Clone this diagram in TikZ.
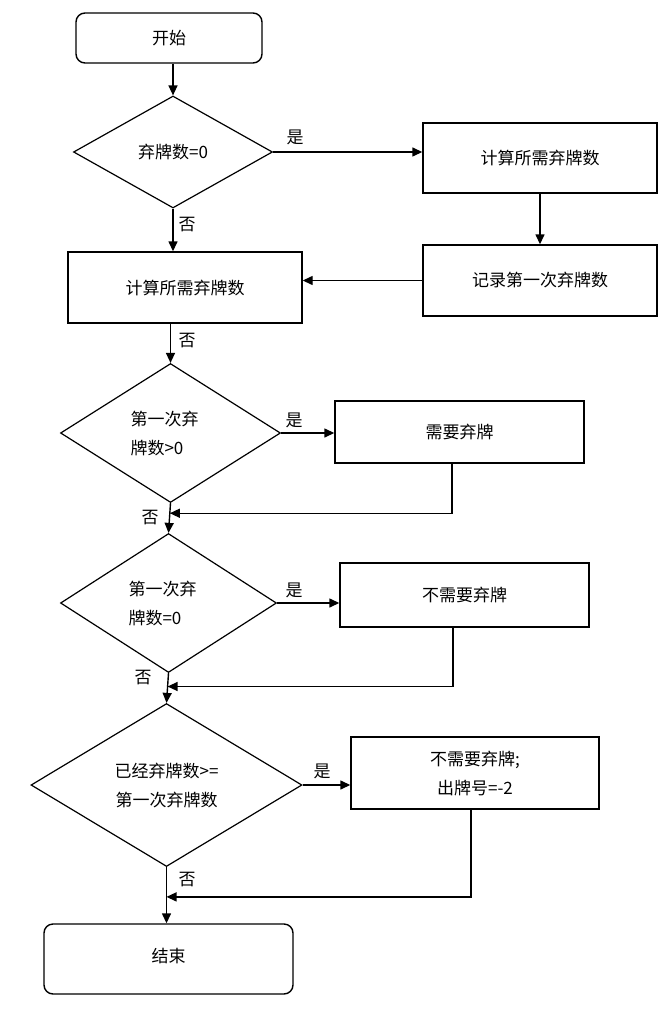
\documentclass[tikz,border=0pt]{standalone}
\usepackage{fontspec}
\setmainfont{Noto Sans CJK SC}
\usetikzlibrary{shapes.geometric,arrows.meta}
\begin{document}
\begin{tikzpicture}[x=1pt,y=-1pt,
 every node/.style={font=\fontsize{17}{29}\selectfont},
 box/.style={draw, line width=1.4pt, inner sep=0pt, anchor=center},
 term/.style={box, rounded corners=9pt},
 dec/.style={draw, diamond, line width=1.2pt, inner sep=0pt, align=center},
 arr/.style={line width=1.4pt, -{Triangle[length=10pt,width=9pt]}},
 ln/.style={line width=1.4pt},
 lbl/.style={inner sep=0pt}]
\useasboundingbox (0,0) rectangle (661,1035);
% nodes
\node[term, minimum width=186pt, minimum height=50pt] (start) at (169,38) {开始};
\node[dec, minimum width=199pt, minimum height=112pt, aspect=1.78] (d1) at (173,152) {弃牌数=0};
\node[box, minimum width=234pt, minimum height=70pt] (a) at (540,158) {计算所需弃牌数};
\node[box, minimum width=234pt, minimum height=71pt] (b) at (540,280.5) {记录第一次弃牌数};
\node[box, minimum width=234pt, minimum height=71pt] (c) at (185,287.5) {计算所需弃牌数};
\node[dec, minimum width=220pt, minimum height=139pt, aspect=1.58, align=left] (d2) at (170.5,433) {第一次弃\hspace*{12pt}\\牌数>0};
\node[box, minimum width=249pt, minimum height=62pt] (dd) at (459.5,432) {需要弃牌};
\node[dec, minimum width=216pt, minimum height=139pt, aspect=1.55, align=left] (d3) at (168.5,603) {第一次弃\hspace*{12pt}\\牌数=0};
\node[box, minimum width=249pt, minimum height=64pt] (e) at (464.5,595) {不需要弃牌};
\node[dec, minimum width=271pt, minimum height=163pt, aspect=1.66] (d4) at (166.5,785) {已经弃牌数>=\\第一次弃牌数};
\node[box, minimum width=248pt, minimum height=72pt, align=center] (f) at (475,773) {不需要弃牌;\\出牌号=-2};
\node[term, minimum width=249pt, minimum height=70pt] (end) at (168.5,959) {\raisebox{7pt}{结束}};
% labels
\node[lbl] (y1) at (295,137) {是};
\node[lbl] (y2) at (294,420) {是};
\node[lbl] (y3) at (294,590) {是};
\node[lbl] (y4) at (322,771) {是};
\node[lbl] (n1) at (187,225) {否};
\node[lbl] (n2) at (187,341) {否};
\node[lbl] (n3) at (150,518) {否};
\node[lbl] (n4) at (143,678) {否};
\node[lbl] (n5) at (187,880) {否};
% connectors
\draw[arr] (start.south -| d1.north) -- (d1.north);
\draw[arr] (d1.east) -- (d1.east -| a.west);
\draw[arr] (a) -- (b);
\draw[arr] (b.west) -- (b.west -| c.east);
\draw[arr] (d1.south) -- (d1.south |- c.north);
\draw[arr] (d2.north |- c.south) -- (d2.north);
\draw[arr] (d2.east) -- (d2.east -| dd.west);
\draw[arr] (d2.south) -- coordinate[pos=0.34] (j1) (d3.north);
\draw[arr] ([xshift=-7.5pt]dd.south) |- (j1);
\draw[arr] (d3.east) -- (d3.east -| e.west);
\draw[arr] (d3.south) -- coordinate[pos=0.45] (j2) (d4.north);
\draw[arr] ([xshift=-11.5pt]e.south) |- (j2);
\draw[arr] (d4.east) -- (d4.east -| f.west);
\draw[arr] (d4.south) -- coordinate[pos=0.53] (j3) (d4.south |- end.north);
\draw[arr] ([xshift=-4pt]f.south) |- (j3);
\end{tikzpicture}
\end{document}
